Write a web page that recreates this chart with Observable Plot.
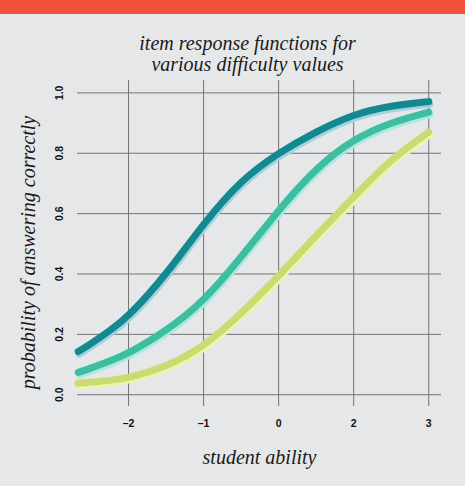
<!DOCTYPE html>
<html>
<head>
<meta charset="utf-8">
<script src="https://cdn.jsdelivr.net/npm/d3@7"></script>
<script src="https://cdn.jsdelivr.net/npm/@observablehq/plot@0.6"></script>
<style>
    html, body { margin: 0; padding: 0; background: #e6e7e8; }
    #bar { height: 14px; background: #f05138; }
    #chart svg { display: block; }
</style>
</head>
<body>
<div id="bar"></div>
<div id="chart"></div>
<script>
// values (x in grid units, the axis labels are as printed)
const ability = [-2.67, -2.5, -2.25, -2, -1.5, -1, -0.5, 0, 0.5, 1, 1.5, 2];
const easyItem = [0.143, 0.169, 0.212, 0.259, 0.397, 0.568, 0.712, 0.802, 0.872, 0.930, 0.958, 0.971];
const mediumItem = [0.074, 0.088, 0.112, 0.136, 0.211, 0.308, 0.455, 0.613, 0.752, 0.848, 0.903, 0.936];
const hardItem = [0.038, 0.042, 0.047, 0.055, 0.092, 0.158, 0.268, 0.393, 0.528, 0.655, 0.782, 0.87];

const xTicks = [-2, -1, 0, 1, 2];
const xTickLabels = ["\u20132", "\u20131", "0", "2", "3"];
const yTicks = [0, 0.2, 0.4, 0.6, 0.8, 1.0];
const yTickLabels = ["0.0", "0.2", "0.4", "0.6", "0.8", "1.0"];

const titleText = "item response functions for\nvarious difficulty values";
const xLabel = "student ability";
const yLabel = "probability of answering correctly";

const renderChart = () => {
    const series = [
        { name: "easy", values: easyItem },
        { name: "medium", values: mediumItem },
        { name: "hard", values: hardItem }
    ];
    // colours for each curve, main stroke and the pale shadow under it
    const styles = {
        easy: { main: "#13898f", shadow: "#a0d2e0" },
        medium: { main: "#3dbe9f", shadow: "#a9e9e2" },
        hard: { main: "#c9db71", shadow: "#eef5a8" }
    };

    const serif = "'Liberation Serif', 'DejaVu Serif', serif";
    const sans = "'Liberation Sans', Arial, sans-serif";
    const gridColor = "#727272";

    // basis curve evens out the small reading errors between points
    const curveMarks = [];
    series.forEach((s) => {
        const rows = ability.map((a, i) => ({ ability: a, p: s.values[i] }));
        curveMarks.push(Plot.line(rows, {
            x: "ability", y: "p", curve: "basis",
            stroke: styles[s.name].shadow, strokeWidth: 7, strokeLinecap: "round",
            dx: 1.2, dy: 2.5
        }));
        curveMarks.push(Plot.line(rows, {
            x: "ability", y: "p", curve: "basis",
            stroke: styles[s.name].main, strokeWidth: 7, strokeLinecap: "round"
        }));
    });

    const chart = Plot.plot({
        width: 465,
        height: 472,
        marginLeft: 77,
        marginRight: 24,
        marginTop: 66,
        marginBottom: 80,
        style: { background: "transparent", overflow: "visible" },
        x: { domain: [-2.68, 2.17], axis: null },
        y: { domain: [-0.039, 1.041], axis: null },
        marks: [
            Plot.ruleY(yTicks, { stroke: gridColor, strokeWidth: 1 }),
            Plot.ruleX(xTicks, { stroke: gridColor, strokeWidth: 1 }),
            ...curveMarks,
            // tick labels, drawn as text so they can sit rotated like the original
            Plot.text(yTicks, {
                y: (d) => d, text: (d, i) => yTickLabels[i],
                frameAnchor: "left", textAnchor: "middle", dx: -18, rotate: -90,
                fontFamily: sans, fontWeight: "bold", fontSize: 10.5, fill: "#111"
            }),
            Plot.text(xTicks, {
                x: (d) => d, text: (d, i) => xTickLabels[i],
                frameAnchor: "bottom", dy: 20,
                fontFamily: sans, fontWeight: "bold", fontSize: 10.5, fill: "#111"
            }),
            Plot.text([xLabel], {
                frameAnchor: "bottom", dy: 57,
                fontFamily: serif, fontStyle: "italic", fontSize: 20, fill: "#1a1a1a"
            }),
            Plot.text([yLabel], {
                frameAnchor: "left", textAnchor: "middle", dx: -49, dy: 9, rotate: -90,
                fontFamily: serif, fontStyle: "italic", fontSize: 20, fill: "#1a1a1a"
            }),
            Plot.text([titleText], {
                frameAnchor: "top", dx: -12, dy: -10, lineAnchor: "bottom", lineHeight: 1.05,
                fontFamily: serif, fontStyle: "italic", fontSize: 20, fill: "#1a1a1a"
            })
        ]
    });

    document.getElementById("chart").append(chart);
};

if (document.readyState === "loading") {
    document.addEventListener("DOMContentLoaded", renderChart);
} else {
    renderChart();
}
</script>
</body>
</html>
